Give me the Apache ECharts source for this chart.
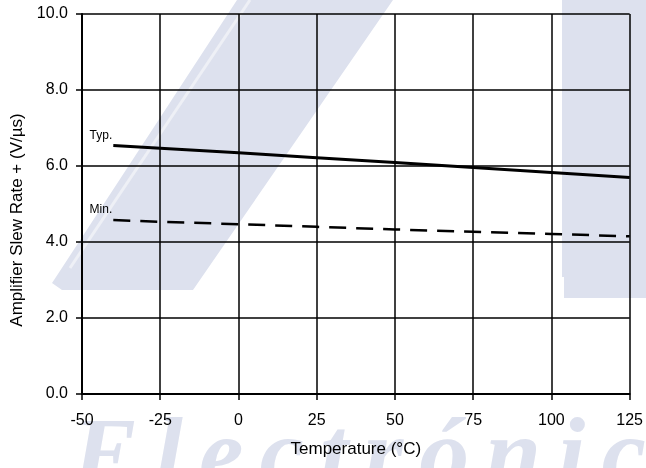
<!DOCTYPE html>
<html>
<head>
<meta charset="utf-8">
<script src="https://cdn.jsdelivr.net/npm/echarts@6/dist/echarts.min.js"></script>
<style>
  html, body { margin: 0; padding: 0; background: #fff; }
  #wrap { position: relative; width: 646px; height: 468px; overflow: hidden; }
  #backdrop, #chart { position: absolute; left: 0; top: 0; width: 646px; height: 468px; }
</style>
</head>
<body>
<div id="wrap">
  <!-- pale backdrop artwork behind the plot -->
  <svg id="backdrop" width="646" height="468" xmlns="http://www.w3.org/2000/svg">
    <polygon points="237,0 393,0 193,290 62,290 52,283 56,277" fill="#dde1ee"/>
    <line x1="70" y1="268" x2="250" y2="0" stroke="#eef0f6" stroke-width="3"/>
    <polygon points="562,0 646,0 646,298 564,298 564,277 562,277" fill="#dde1ee"/>
    <text x="72" y="486" font-family="Liberation Serif, serif" font-style="italic" font-weight="bold"
          font-size="100" fill="#dde1ee" textLength="640" lengthAdjust="spacing">Electrónica</text>
  </svg>
  <div id="chart"></div>
</div>
<script>
// Slew rate versus temperature
const temperatures = [-40, -25, 0, 25, 50, 75, 100, 125];
const typSlew = [6.54, 6.47, 6.35, 6.22, 6.09, 5.96, 5.83, 5.70];
const minSlew = [4.58, 4.53, 4.47, 4.40, 4.33, 4.27, 4.21, 4.15];
const seriesNames = ['Typ.', 'Min.'];

const FONT = '"Liberation Sans", Arial, sans-serif';

function toPairs(xs, ys, name) {
  return xs.map((x, i) => {
    const item = { value: [x, ys[i]] };
    if (i === 0) {
      item.label = {
        show: true, formatter: name, position: 'left', distance: 1,
        offset: [0, -10], fontFamily: FONT, fontSize: 12, color: '#000'
      };
    }
    return item;
  });
}

const chart = echarts.init(document.getElementById('chart'), null, { renderer: 'canvas' });

chart.setOption({
  animation: false,
  backgroundColor: 'transparent',
  grid: { left: 82, right: 14, top: 14, bottom: 74, containLabel: false },
  xAxis: {
    type: 'value', min: -50, max: 125, interval: 25,
    name: 'Temperature (°C)', nameLocation: 'middle', nameGap: 47,
    nameTextStyle: { fontFamily: FONT, fontSize: 17, color: '#000' },
    axisLine: { show: true, onZero: false, lineStyle: { color: '#000', width: 2 } },
    axisTick: { show: true, inside: false, length: 6, lineStyle: { color: '#000', width: 1.5 } },
    axisLabel: { fontFamily: FONT, fontSize: 16, color: '#000', margin: 19 },
    splitLine: { show: true, lineStyle: { color: '#000', width: 1.5 } }
  },
  yAxis: {
    type: 'value', min: 0, max: 10, interval: 2,
    name: 'Amplifier Slew Rate + (V/µs)', nameLocation: 'middle', nameGap: 56,
    nameTextStyle: { fontFamily: FONT, fontSize: 17, color: '#000', padding: [0, 32, 0, 0] },
    axisLine: { show: true, onZero: false, lineStyle: { color: '#000', width: 2 } },
    axisTick: { show: true, inside: false, length: 6, lineStyle: { color: '#000', width: 1.5 } },
    axisLabel: { fontFamily: FONT, fontSize: 16, color: '#000', margin: 14,
      formatter: v => v.toFixed(1) },
    splitLine: { show: true, lineStyle: { color: '#000', width: 1.5 } }
  },
  series: [
    {
      name: seriesNames[0], type: 'line', data: toPairs(temperatures, typSlew, seriesNames[0]),
      showSymbol: true, symbol: 'circle', symbolSize: 0,
      lineStyle: { color: '#000', width: 3 }, itemStyle: { color: '#000' }, z: 5
    },
    {
      name: seriesNames[1], type: 'line', data: toPairs(temperatures, minSlew, seriesNames[1]),
      showSymbol: true, symbol: 'circle', symbolSize: 0,
      lineStyle: { color: '#000', width: 2.5, type: [17, 10] }, itemStyle: { color: '#000' }, z: 5
    }
  ]
});
</script>
</body>
</html>
